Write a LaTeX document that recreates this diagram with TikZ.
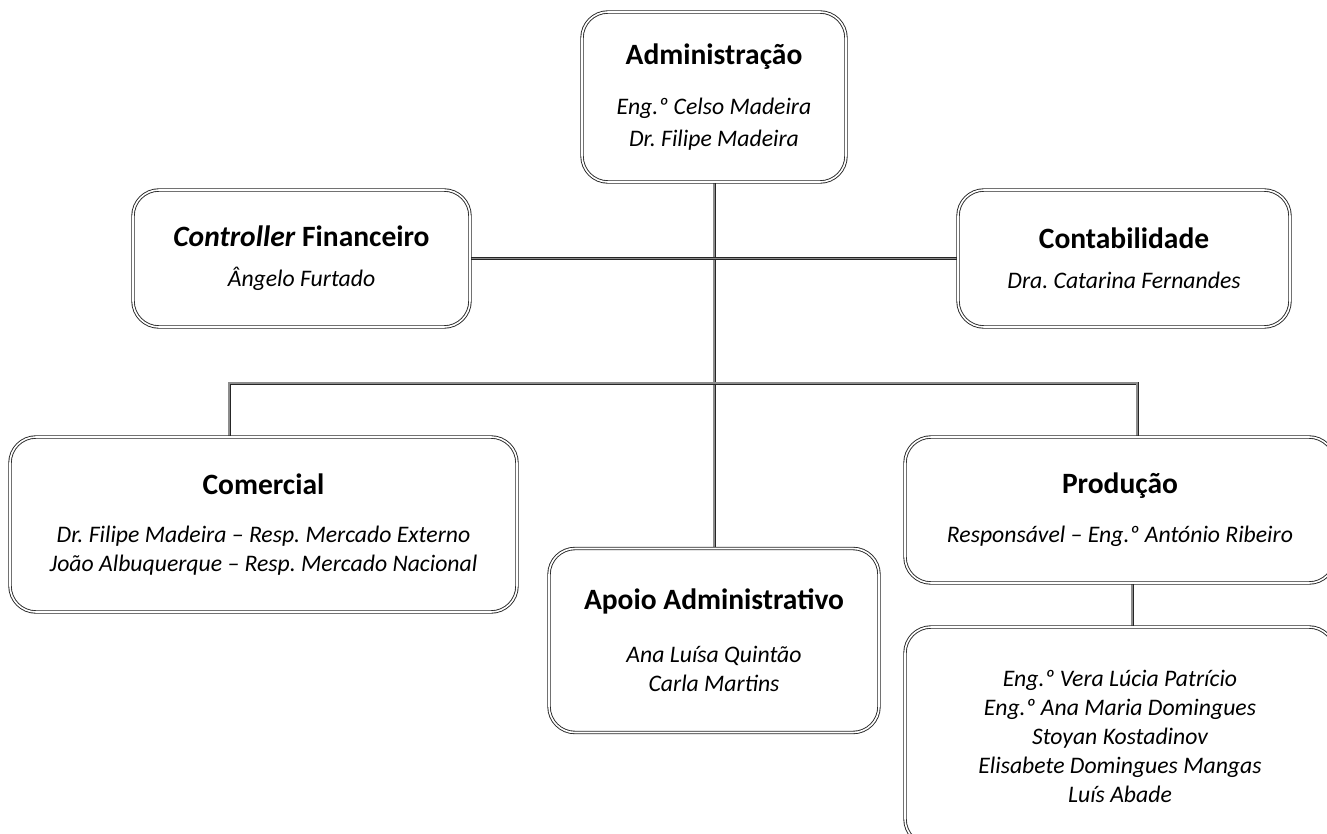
\documentclass[tikz,border=0pt]{standalone}
\usepackage{fontspec}
\setmainfont{Carlito}
\usetikzlibrary{backgrounds}
\newcommand\unittitle[1]{{\fontsize{29.5}{32}\selectfont\bfseries\upshape #1}}
\begin{document}
\frenchspacing
\begin{tikzpicture}[x=1pt,y=-1pt,
  unit/.style={draw=black!85, fill=white, line width=0.9pt, double=white,
    double distance=1.6pt, rounded corners=26pt, align=center, inner sep=0pt,
    font=\fontsize{23.7}{29}\selectfont\itshape},
  link/.style={draw=black!85, line width=0.75pt, double=black!45, double distance=1.5pt}]
\useasboundingbox (0,0) rectangle (1327,834);
\clip (0,0) rectangle (1327,834);

% units
\node[unit, minimum width=264pt, minimum height=170pt] (adm) at (714,97)
  {\unittitle{Administração}\\[21pt] Eng.º Celso Madeira\\[3pt] Dr. Filipe Madeira};
\node[unit, minimum width=337pt, minimum height=137pt] (ctrl) at (301.5,258.5)
  {\unittitle{\textit{Controller} Financeiro}\\[11pt] Ângelo Furtado};
\node[unit, minimum width=332pt, minimum height=137pt] (cont) at (1124,258.5)
  {\unittitle{Contabilidade}\\[11pt] Dra. Catarina Fernandes};
\node[unit, minimum width=507pt, minimum height=175pt] (com) at (263.5,524.5)
  {\unittitle{Comercial}\\[19pt] Dr. Filipe Madeira – Resp. Mercado Externo\\ João Albuquerque – Resp. Mercado Nacional};
\node[unit, minimum width=330pt, minimum height=184pt] (apo) at (714,640.5)
  {\unittitle{Apoio Administrativo}\\[24pt] Ana Luísa Quintão\\ Carla Martins};
\node[unit, minimum width=430pt, minimum height=146pt] (prod) at (1120,510)
  {\unittitle{Produção}\\[20pt] Responsável – Eng.º António Ribeiro};
\node[unit, minimum width=430pt, minimum height=218pt] (team) at (1120,736)
  {Eng.º Vera Lúcia Patrício\\ Eng.º Ana Maria Domingues\\ Stoyan Kostadinov\\ Elisabete Domingues Mangas\\ Luís Abade};

% junction points of the bus
\coordinate (busL) at (229,383);
\coordinate (busR) at (1137,383);

% connectors run between box centres behind the boxes
\begin{pgfonlayer}{background}
\draw[link] (adm.center) -- (apo.center);
\draw[link] (ctrl.center) -- (cont.center);
\draw[link] (busL |- com.center) -- (busL) -- (busR) -- (busR |- prod.center);
\draw[link] ([xshift=12pt]prod.center) -- ([xshift=12pt]team.center);
\end{pgfonlayer}
\end{tikzpicture}
\end{document}
